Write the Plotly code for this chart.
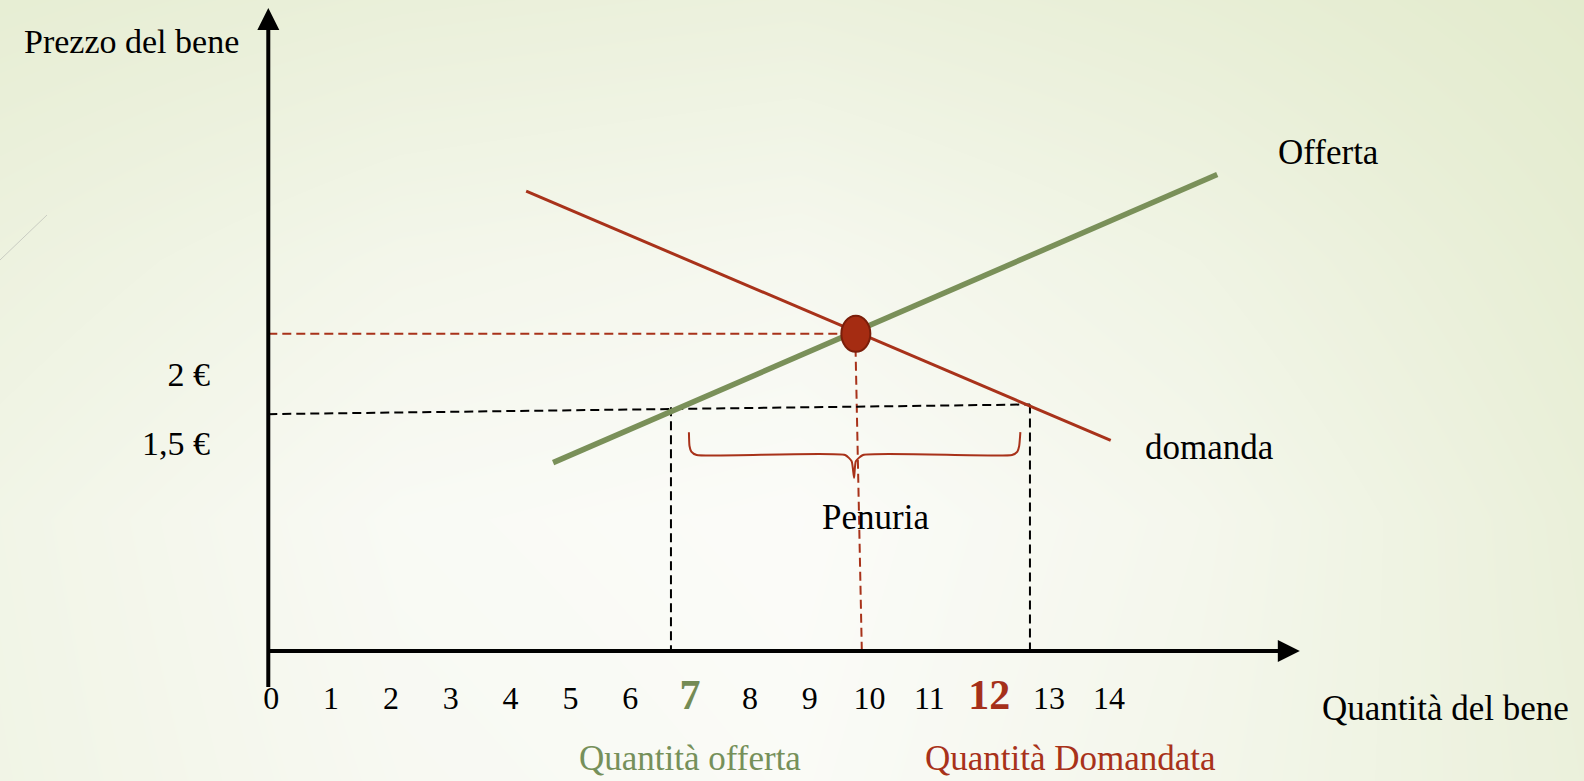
import plotly.graph_objects as go

W, H = 1584, 781

# ---------------- data ----------------
q_ticks = list(range(0, 15))
q_tick_labels = [str(v) for v in q_ticks]
q_highlight = {7: "#748B55", 12: "#A5301A"}
p_ticks = [2.0, 1.5]
p_tick_labels = ["2 €", "1,5 €"]

supply_q = [4.71, 15.81]
supply_p = [1.36, 3.44]
demand_q = [4.26, 14.03]
demand_p = [3.32, 1.52]

eq_q, eq_p = 9.77, 2.29
eq_guide_h_q = [-0.05, 9.77]
eq_guide_h_p = [2.29, 2.29]
eq_guide_v_q = [9.76, 9.87]
eq_guide_v_p = [2.29, 0.0]

price_guide_q = [-0.05, 12.68]
price_guide_p = [1.71, 1.78]
qs_guide_q = [6.68, 6.68]
qs_guide_p = [1.76, 0.0]
qd_guide_q = [12.68, 12.68]
qd_guide_p = [1.78, 0.0]

brace_q = [6.98, 6.99, 7.02, 7.11, 9.59, 9.70, 9.74, 9.77, 9.89, 12.38, 12.47, 12.50, 12.52]
brace_p = [1.58, 1.48, 1.44, 1.415, 1.415, 1.37, 1.25, 1.37, 1.415, 1.415, 1.44, 1.48, 1.58]

# background shading (0 = white, 1 = pale green)
bg_q = [-4.53, 2.15, 8.84, 15.52, 21.94]
bg_p = [4.70, 2.82, 0.95, -0.94]
bg_shade = [
    [0.85, 0.72, 0.65, 0.80, 1.00],
    [0.60, 0.35, 0.25, 0.50, 0.85],
    [0.42, 0.12, 0.03, 0.30, 0.72],
    [0.45, 0.18, 0.08, 0.35, 0.68],
]

# ---------------- styles ----------------
FONT = "Liberation Serif"
GREEN = "#7A9059"
RED = "#A8321A"
X_RANGE = [-4.534, 21.94]
Y_RANGE = [-0.9386, 4.700]


def px(x):
    return x / W


def py(y):
    return 1 - y / H


fig = go.Figure()

fig.add_trace(go.Heatmap(
    x=bg_q, y=bg_p, z=bg_shade, zsmooth="best", showscale=False,
    colorscale=[[0, "#FCFCFA"], [1, "#E3EBCD"]], zmin=0, zmax=1,
    hoverinfo="skip"))

dash_style = "9px,5px"
for xs, ys, col in [
    (eq_guide_h_q, eq_guide_h_p, RED),
    (eq_guide_v_q, eq_guide_v_p, RED),
    (price_guide_q, price_guide_p, "black"),
    (qs_guide_q, qs_guide_p, "black"),
    (qd_guide_q, qd_guide_p, "black"),
]:
    fig.add_trace(go.Scatter(x=xs, y=ys, mode="lines",
                             line=dict(color=col, width=2, dash=dash_style),
                             hoverinfo="skip", showlegend=False))

fig.add_trace(go.Scatter(x=brace_q, y=brace_p, mode="lines",
                         line=dict(color=RED, width=2, shape="spline", smoothing=0.5),
                         hoverinfo="skip", showlegend=False))

fig.add_trace(go.Scatter(x=demand_q, y=demand_p, mode="lines",
                         line=dict(color=RED, width=3), hoverinfo="skip", showlegend=False))
fig.add_trace(go.Scatter(x=supply_q, y=supply_p, mode="lines",
                         line=dict(color=GREEN, width=5.5), hoverinfo="skip", showlegend=False))

# equilibrium point (ellipse anchored at data point)
fig.add_shape(type="circle", xref="x", yref="y", xsizemode="pixel", ysizemode="pixel",
              xanchor=eq_q, yanchor=eq_p, x0=-14.5, x1=14.5, y0=-18, y1=18,
              fillcolor="#A52C12", line=dict(color="#7A1E0A", width=2), layer="above")

# axes with arrowheads
fig.add_annotation(x=17.19, y=0, ax=-0.08, ay=0, xref="x", yref="y", axref="x", ayref="y",
                   showarrow=True, arrowhead=2, arrowsize=1.1, arrowwidth=4, arrowcolor="black", text="")
fig.add_annotation(x=-0.05, y=4.643, ax=-0.05, ay=-0.27, xref="x", yref="y", axref="x", ayref="y",
                   showarrow=True, arrowhead=2, arrowsize=1.1, arrowwidth=4, arrowcolor="black", text="")

# decorative theme line
fig.add_shape(type="line", xref="paper", yref="paper", x0=px(0), y0=py(260), x1=px(47), y1=py(215),
              line=dict(color="#C9CCC2", width=1))

ticktext = []
for v, lab in zip(q_ticks, q_tick_labels):
    if v in q_highlight:
        ticktext.append(f"<b><span style='color:{q_highlight[v]};font-size:42px'>{lab}</span></b>")
    else:
        ticktext.append(lab)

texts = [
    ("Prezzo del bene", 131, 42, "black", 34),
    ("Offerta", 1328, 152, "black", 35),
    ("domanda", 1209, 447, "black", 35),
    ("Penuria", 875, 517, "black", 35),
    ("Quantità del bene", 1445, 708, "black", 35),
    ("Quantità offerta", 690, 758, "#76905A", 35),
    ("Quantità Domandata", 1070, 758, RED, 35),
]
for t, x, y, c, s in texts:
    fig.add_annotation(x=px(x), y=py(y), xref="paper", yref="paper", text=t, showarrow=False,
                       xanchor="center", yanchor="middle", font=dict(family=FONT, size=s, color=c))

fig.update_layout(
    width=W, height=H, margin=dict(l=0, r=0, t=0, b=0),
    paper_bgcolor="white", plot_bgcolor="white", showlegend=False,
    xaxis=dict(range=X_RANGE, domain=[0, 1], showgrid=False, zeroline=False, showline=False,
               tickvals=q_ticks, ticktext=ticktext, ticks="", anchor="free", position=130 / H,
               ticklabelstandoff=25, tickfont=dict(family=FONT, size=32, color="black"),
               fixedrange=True),
    yaxis=dict(range=Y_RANGE, domain=[0, 1], showgrid=False, zeroline=False, showline=False,
               tickvals=p_ticks, ticktext=p_tick_labels, ticks="", anchor="free", position=268 / W,
               ticklabelstandoff=58, tickfont=dict(family=FONT, size=34, color="black"),
               fixedrange=True),
    hovermode=False,
)

fig.write_html("out.html", config={"displayModeBar": False},
               post_script="document.body.style.margin='0px';document.body.style.overflow='hidden';")
